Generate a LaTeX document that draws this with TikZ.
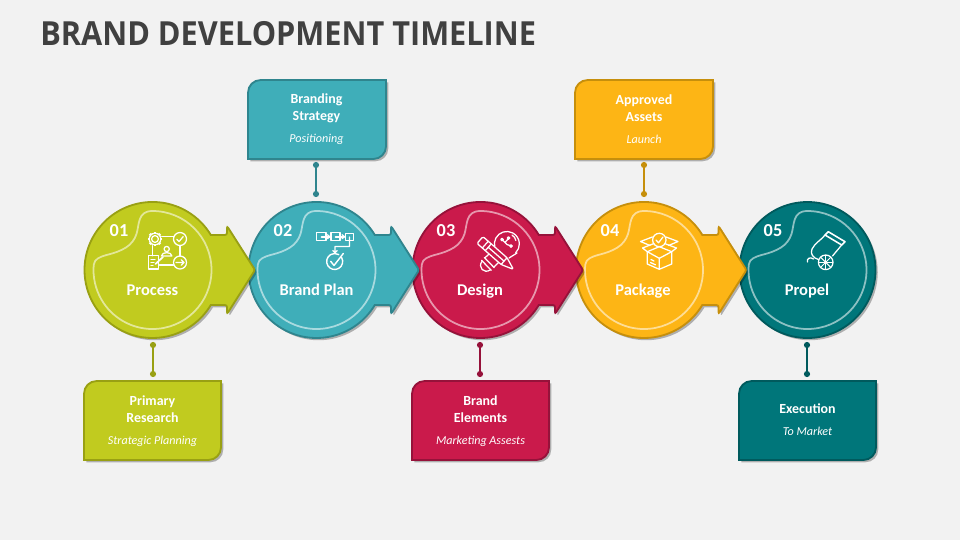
\documentclass[tikz,border=0pt]{standalone}
\usepackage{fontspec}
\setmainfont{Carlito}
\newfontfamily\titlefont{Open Sans}
\usetikzlibrary{shadows}
\definecolor{pagebg}{HTML}{F2F2F2}
\definecolor{titlegray}{HTML}{404040}
\definecolor{limefill}{HTML}{C1CB1F}
\definecolor{limeedge}{HTML}{99A013}
\definecolor{tealfill}{HTML}{3FAEB9}
\definecolor{tealedge}{HTML}{2F858E}
\definecolor{redfill}{HTML}{CA1A4B}
\definecolor{rededge}{HTML}{96123A}
\definecolor{amberfill}{HTML}{FDB515}
\definecolor{amberedge}{HTML}{C68F0C}
\definecolor{pinefill}{HTML}{00767A}
\definecolor{pineedge}{HTML}{005A5D}
\tikzset{
  softshadow/.style={drop shadow={shadow xshift=1.6pt,shadow yshift=-1.6pt,opacity=.28,fill=black}},
  stepshape/.style={line width=1.3pt,softshadow},
  blobline/.style={white,opacity=.55,line width=1.25pt},
  numlabel/.style={text=white,anchor=base,inner sep=0pt,font=\bfseries\fontsize{13}{14}\selectfont},
  steplabel/.style={text=white,anchor=base,inner sep=0pt,font=\bfseries\fontsize{11.7}{14}\selectfont},
  boxlabel/.style={text=white,align=center,font=\bfseries\fontsize{9.9}{12.2}\selectfont},
  dotnode/.style={circle,inner sep=0pt,minimum size=4.4pt},
  iconline/.style={white,line width=.9pt,line join=round,line cap=round},
}
\newcommand{\subline}[1]{\\[3.5pt]{\mdseries\itshape\fontsize{8.6}{10}\selectfont #1}}
\begin{document}
\begin{tikzpicture}[x=0.025cm,y=-0.025cm]
  \fill[pagebg] (0,0) rectangle (960,540);
  \node[anchor=west,inner sep=0pt,text=titlegray,font=\titlefont\bfseries\fontsize{23.6}{28}\selectfont] (title) at (40,34) {\scalebox{.925}[1]{BRAND DEVELOPMENT TIMELINE}};

  % last step has no arrow
  \draw[stepshape,fill=pinefill,draw=pineedge] (807.5,270) circle [radius=68];
  \draw[blobline,shift={(807.5,270)}] (0,-59) arc [start angle=270,end angle=545,radius=59]
     .. controls (-58,-11) and (-53,-13) .. (-46,-15) .. controls (-30,-19) and (-20,-24) .. (-16,-36)
     .. controls (-13,-46) and (-15,-59) .. (0,-59);

  \foreach \cx/\fillcol/\edgecol in {644/amberfill/amberedge,480.5/redfill/rededge,316.5/tealfill/tealedge,152.5/limefill/limeedge} {
    \begin{scope}[shift={(\cx,270)}]
      \draw[stepshape,fill=\fillcol,draw=\edgecol] (58.3,35) arc [start angle=31,end angle=329,radius=68]
         [rounded corners=1.5pt] -- (74.5,-35) -- (74.5,-44) -- (102.5,0) -- (74.5,44) -- (74.5,35) [sharp corners] -- cycle;
      \draw[blobline] (0,-59) arc [start angle=270,end angle=545,radius=59]
         .. controls (-58,-11) and (-53,-13) .. (-46,-15) .. controls (-30,-19) and (-20,-24) .. (-16,-36)
         .. controls (-13,-46) and (-15,-59) .. (0,-59);
    \end{scope}
  }

  % numbers and names
  \foreach \i/\nx/\lx/\nm in {1/119/152.5/Process,2/283/316.5/Brand Plan,3/446/480/Design,4/610/643/Package,5/773/807/Propel} {
    \node[numlabel] (num\i) at (\nx,236) {0\i};
    \node[steplabel] (name\i) at (\lx,295) {\nm};
  }

  % callout boxes
  \foreach \i/\xa/\ya/\xb/\yb/\fillcol/\edgecol in {1/84/381/221/460/limefill/limeedge,2/248/80/386/159/tealfill/tealedge,3/412/381/549/460/redfill/rededge,4/575/80/713/159/amberfill/amberedge,5/739/381/876/460/pinefill/pineedge} {
    \draw[stepshape,fill=\fillcol,draw=\edgecol] (\xa,\yb) [rounded corners=9pt] -- (\xa,\ya) [sharp corners] -- (\xb,\ya)
       [rounded corners=9pt] -- (\xb,\yb) [sharp corners] -- cycle;
  }
  \node[boxlabel] (box1) at (152.5,421.5) {Primary\\Research\subline{Strategic Planning}};
  \node[boxlabel] (box2) at (316.5,119) {Branding\\Strategy\subline{Positioning}};
  \node[boxlabel] (box3) at (480.5,421.5) {Brand\\Elements\subline{Marketing Assests}};
  \node[boxlabel] (box4) at (644,119) {Approved\\Assets\subline{Launch}};
  \node[boxlabel] (box5) at (807.5,420) {Execution\subline{To Market}};

  % stems between circles and boxes
  \foreach \i/\sx/\sa/\sb/\edgecol in {1/153/345/374/limeedge,2/316/165/194/tealedge,3/480/345/374/rededge,4/644/165/194/amberedge,5/807/345/374/pineedge} {
    \node[dotnode,fill=\edgecol] (dota\i) at (\sx,\sa) {};
    \node[dotnode,fill=\edgecol] (dotb\i) at (\sx,\sb) {};
    \draw[\edgecol,line width=1.4pt] (dota\i) -- (dotb\i);
  }

  % icon 1
  \draw[iconline] (155,239) circle [radius=3.4];
  \draw[iconline] (155,239) circle [radius=5.8];
  \foreach \a in {0,45,...,315}
    \draw[white,line width=1.8pt] (155,239) ++(\a:5.8) -- ++(\a:1.6);
  \draw[iconline] (180,239) circle [radius=6.5] (176.8,239.3) -- (179,241.6) -- (183.2,236.6);
  \draw[iconline] (180,262.5) circle [radius=6.5] (176,262.5) -- (184,262.5) (181.2,259.8) -- (184,262.5) -- (181.2,265.2);
  \draw[iconline] (161.7,236.7) -- (173.5,236.7) (152.7,245.7) -- (152.7,255.7) (180,245.5) -- (180,256) (159.5,265) -- (173.5,265);
  \draw[iconline] (148.5,255.7) rectangle (158.5,269);
  \draw[iconline] (151,259.5) -- (155,259.5) (151,262.5) -- (154,262.5) (151,265.5) -- (153,265.5);
  \draw[iconline,line width=1.2pt] (155.5,264) -- (163,257);
  \draw[iconline] (166.7,249) circle [radius=2.6] (161.5,256) .. controls (161.5,251.5) and (171.9,251.5) .. (171.9,256) -- cycle;

  % icon 2
  \draw[iconline] (316.7,232.7) rectangle (326,240.7) (331,232.7) rectangle (340,240.7) (345.7,233.3) rectangle (353.3,240.7);
  \draw[iconline,line width=1.2pt] (321.5,236.7) -- (329.5,236.7) (335.5,236.7) -- (344,236.7);
  \draw[iconline] (327.3,234.7) -- (329.8,236.7) -- (327.3,238.7) (342,234.7) -- (344.5,236.7) -- (342,238.7);
  \draw[iconline] (349.5,237) -- (349.5,246.5) -- (335,246.5) -- (335,252.5) (332.8,250.5) -- (335,252.7) -- (337.2,250.5);
  \draw[iconline,line width=1pt] (341.6,257.5) arc [start angle=-30,end angle=300,radius=8];
  \draw[iconline,line width=1pt] (330.7,261.3) -- (334,265.5) -- (343.3,253.5);

  % icon 3
  \draw[iconline] (501,255) arc [start angle=118,end angle=405,radius=12.5];
  \draw[iconline] (517,253) -- (509,258);
  \draw[iconline] (512,235) arc [start angle=-60,end angle=-10,radius=8];
  \draw[iconline] (502,239.5) circle [radius=1.3] (511,246) circle [radius=1.3] (508.5,238) circle [radius=1.3];
  \draw[iconline] (503,240.5) -- (507,244.5) -- (510,245.5) (505,242.5) -- (508,239);
  \begin{scope}[shift={(508,244.5)},rotate=-136]
    \draw[iconline] (12,-6) -- (26,-6.5) (12,6) -- (26,6.5);
    \draw[iconline] (26,-7) -- (26,7) (30,-7) -- (30,7);
    \draw[iconline] (30,-6) .. controls (38,-5) and (38,5) .. (30,6);
  \end{scope}
  \begin{scope}[shift={(480,240)},rotate=-41.3]
    \draw[iconline,fill=redfill,rounded corners=1pt] (0,-4.5) -- (32,-4.5) -- (44.5,0) -- (32,4.5) -- (0,4.5) -- cycle;
    \draw[iconline] (7,-4.5) -- (7,4.5) (11,-4.5) -- (11,4.5) (32,-4.5) -- (32,4.5) (11,0) -- (32,0);
  \end{scope}

  % icon 4
  \draw[iconline] (659.3,240) circle [radius=6.7] (656,240) -- (658.5,242.8) -- (663,237);
  \draw[iconline] (647.3,251.7) -- (659.3,258.3) -- (671.7,251.7) -- (659.3,246.7) -- cycle;
  \draw[iconline] (647.3,251.7) -- (647.3,264) -- (659.3,269.3) -- (671.7,264) -- (671.7,251.7) (659.3,258.3) -- (659.3,269.3);
  \draw[iconline] (647.3,251.7) -- (642.5,248) -- (654,243.5) (671.7,251.7) -- (676.5,248) -- (664.5,243.5);
  \draw[iconline] (650,245.5) -- (640.5,241.5) -- (652.3,237) (668.5,245.5) -- (678,241.5) -- (666,237);
  \draw[iconline] (651,259.5) -- (654,261) (650.5,262.5) -- (655.5,264.8);

  % icon 5
  \draw[iconline,line width=1.1pt] (825,235) -- (841.7,245) -- (845,241.7) -- (828.3,231.7) -- cycle;
  \draw[iconline] (825,235) .. controls (820,241) and (815,243) .. (812,249) .. controls (810,254) and (813,258) .. (818.5,259.5);
  \draw[iconline] (841.7,245) -- (832.5,256);
  \draw[iconline] (825.7,262.3) circle [radius=7.3];
  \foreach \a in {0,45,...,315}
    \draw[white,line width=.7pt] (825.7,262.3) -- ++(\a:7.3);
  \draw[iconline] (813.5,259) .. controls (810,256.5) and (806.5,258.5) .. (807.5,262);
\end{tikzpicture}
\end{document}
